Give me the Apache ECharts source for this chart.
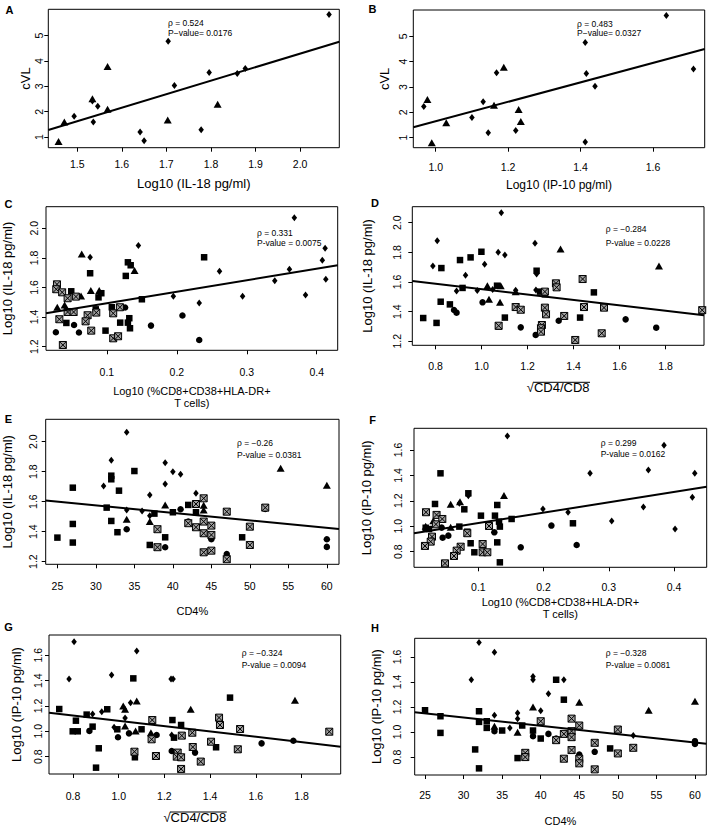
<!DOCTYPE html>
<html><head><meta charset="utf-8">
<script src="https://cdn.jsdelivr.net/npm/echarts@6/dist/echarts.min.js"></script>
<style>html,body{margin:0;padding:0;background:#fff}#c{width:708px;height:827px}</style>
</head><body><div id="c"></div>
<script>
// ---------- DATA ----------
// Panel A: x = Log10 IL-18, y = cVL
const A_diamond = [[2.065,5.83],[1.704,4.78],[1.796,3.55],[1.859,3.51],[1.877,3.70],[1.718,3.03],[1.534,2.42],[1.546,2.22],[1.493,1.82],[1.536,1.59],[1.641,1.20],[1.650,0.85],[1.778,1.29]];
const A_triangle = [[1.568,3.78],[1.534,2.51],[1.568,2.10],[1.471,1.59],[1.458,0.82],[1.703,1.67],[1.815,2.29]];
const A_fit = [[1.435,1.28],[2.088,4.76]];
const A_xticks = [1.5,1.6,1.7,1.8,1.9,2.0];
const A_yticks = [1,2,3,4,5];
const A_xrange = [1.435,2.088];
const A_yrange = [0.58,6.04];

// Panel B: x = Log10 IP-10, y = cVL
const B_diamond = [[1.637,5.82],[1.413,4.76],[1.416,3.53],[1.712,3.71],[1.440,3.03],[1.168,3.56],[1.131,2.42],[0.967,2.23],[1.100,1.80],[1.145,1.20],[1.221,1.28],[1.413,0.83]];
const B_triangle = [[1.188,3.78],[0.977,2.51],[1.161,2.28],[1.229,2.11],[1.235,1.64],[1.029,1.59],[0.989,0.80]];
const B_fit = [[0.938,1.41],[1.743,4.50]];
const B_xticks = [1.0,1.2,1.4,1.6];
const B_yticks = [1,2,3,4,5];
const B_xrange = [0.938,1.743];
const B_yrange = [0.605,6.04];

// Panel C: x = Log10 %CD8+CD38+HLA-DR+, y = Log10 IL-18
const C_diamond = [[0.368,2.072],[0.412,1.865],[0.408,1.784],[0.413,1.655],[0.361,1.723],[0.340,1.646],[0.384,1.549],[0.294,1.540],[0.261,1.709],[0.232,1.495],[0.195,1.540],[0.145,1.883],[0.076,1.804]];
const C_triangle = [[0.064,1.826],[0.1395,1.714],[0.029,1.466],[0.0395,1.482],[0.063,1.543],[0.077,1.579],[0.089,1.579]];
const C_square = [[0.076,1.696],[0.130,1.770],[0.134,1.750],[0.127,1.678],[0.049,1.574],[0.092,1.561],[0.088,1.533],[0.084,1.452],[0.107,1.466],[0.150,1.520],[0.042,1.360],[0.119,1.362],[0.132,1.392],[0.130,1.362],[0.133,1.324],[0.098,1.308],[0.239,1.804]];
const C_circle = [[0.126,1.464],[0.053,1.346],[0.163,1.342],[0.027,1.297],[0.060,1.295],[0.208,1.410],[0.232,1.245]];
const C_pattern = [[0.0286,1.621],[0.0276,1.588],[0.036,1.567],[0.0438,1.527],[0.0557,1.538],[0.0438,1.434],[0.0524,1.434],[0.0724,1.412],[0.0848,1.430],[0.1186,1.466],[0.109,1.425],[0.032,1.385],[0.0695,1.371],[0.0776,1.308],[0.109,1.256],[0.116,1.270],[0.037,1.211]];
const C_fit = [[0.0129,1.425],[0.430,1.750]];
const C_xticks = [0.1,0.2,0.3,0.4];
const C_yticks = [1.2,1.4,1.6,1.8,2.0];
const C_xrange = [0.0129,0.430];
const C_yrange = [1.175,2.146];

// Panel D: x = sqrt(CD4/CD8), y = Log10 IL-18
const D_diamond = [[1.0855,2.067],[0.807,1.879],[1.232,1.861],[1.072,1.80],[1.101,1.782],[0.788,1.708],[1.013,1.719],[0.930,1.645],[0.891,1.539],[0.981,1.542],[1.048,1.55],[1.236,1.546],[1.148,1.545],[1.239,1.654]];
const D_triangle = [[1.025,1.575],[1.083,1.575],[1.032,1.483],[1.080,1.463],[1.148,1.535],[1.343,1.822],[1.771,1.708]];
const D_square = [[0.746,1.357],[0.804,1.324],[0.825,1.694],[0.822,1.467],[0.862,1.449],[0.906,1.748],[0.952,1.766],[0.999,1.804],[0.917,1.560],[1.067,1.575],[1.101,1.360],[1.074,1.299],[1.239,1.676],[1.254,1.535],[1.275,1.517],[1.488,1.530],[1.428,1.360]];
const D_circle = [[1.004,1.463],[1.170,1.294],[1.235,1.243],[1.335,1.339],[0.880,1.411],[0.891,1.393],[1.626,1.348],[1.759,1.292]];
const D_pattern = [[1.148,1.431],[1.170,1.413],[1.275,1.535],[1.275,1.427],[1.280,1.382],[1.262,1.310],[1.258,1.288],[1.258,1.265],[1.359,1.371],[1.323,1.591],[1.326,1.564],[1.439,1.620],[1.445,1.431],[1.532,1.427],[1.407,1.209],[1.522,1.254],[1.959,1.41],[1.074,1.305]];
const D_fit = [[0.6986,1.607],[1.9667,1.375]];
const D_xticks = [0.8,1.0,1.2,1.4,1.6,1.8];
const D_yticks = [1.2,1.4,1.6,1.8,2.0];
const D_xrange = [0.6986,1.9667];
const D_yrange = [1.173,2.108];

// Panel E: x = CD4%, y = Log10 IL-18
const E_diamond = [[34,2.062],[32,1.876],[31,1.704],[39,1.86],[40,1.80],[41,1.782],[39,1.718],[37,1.644],[43,1.656],[36,1.538],[34,1.544],[37,1.505]];
const E_triangle = [[39,1.578],[44,1.575],[44,1.544],[37,1.467],[34,1.482],[54,1.822],[60,1.709]];
const E_square = [[35,1.804],[32,1.773],[32,1.749],[33,1.673],[27,1.693],[31.4,1.56],[32,1.471],[27,1.451],[27,1.327],[25,1.36],[32.8,1.396],[37,1.311],[37.6,1.52],[39,1.362],[40,1.529],[42,1.578],[43,1.529],[49,1.362]];
const E_circle = [[34,1.416],[39,1.296],[41,1.549],[42,1.467],[45,1.349],[47,1.251],[52,1.551],[60,1.349],[60,1.298]];
const E_pattern = [[44,1.622],[43,1.584],[47,1.533],[38,1.416],[42,1.456],[43,1.429],[44,1.467],[45,1.44],[44,1.389],[45,1.378],[38,1.296],[44,1.262],[45,1.273],[47,1.216],[50,1.433],[50,1.311],[52,1.56]];
const E_fit = [[23.48,1.607],[61.58,1.418]];
const E_xticks = [25,30,35,40,45,50,55,60];
const E_yticks = [1.2,1.4,1.6,1.8,2.0];
const E_xrange = [23.48,61.58];
const E_yrange = [1.182,2.149];

// Panel F: x = Log10 %CD8+CD38+HLA-DR+, y = Log10 IP-10
const F_diamond = [[0.1445,1.710],[0.3846,1.637],[0.4317,1.416],[0.3606,1.443],[0.2712,1.416],[0.428,1.228],[0.353,1.151],[0.199,1.136],[0.2375,1.110],[0.3044,1.041],[0.4015,0.978],[0.0709,1.180],[0.0847,1.24]];
const F_triangle = [[0.0576,1.172],[0.0719,1.193],[0.1393,1.241],[0.031,1.044],[0.0193,1.0],[0.0576,0.991]];
const F_square = [[0.042,1.416],[0.0336,1.175],[0.0847,1.259],[0.0785,1.133],[0.129,1.167],[0.104,1.083],[0.1255,1.083],[0.151,1.057],[0.0193,0.988],[0.0244,0.978],[0.0709,0.997],[0.1317,1.036],[0.133,0.997],[0.0831,0.957],[0.0882,0.866],[0.0939,0.795],[0.129,0.873],[0.133,0.716],[0.245,1.023]];
const F_circle = [[0.0438,0.989],[0.0453,0.910],[0.054,0.926],[0.1245,0.952],[0.165,0.834],[0.212,1.005],[0.2507,0.852]];
const F_pattern = [[0.0198,1.110],[0.036,1.089],[0.0448,1.057],[0.035,1.015],[0.1164,1.002],[0.029,0.918],[0.027,0.879],[0.0182,0.845],[0.0831,0.945],[0.0729,0.839],[0.0668,0.808],[0.0627,0.766],[0.1066,0.860],[0.1066,0.795],[0.1138,0.795],[0.0489,0.708]];
const F_fit = [[0.0014,0.944],[0.45,1.311]];
const F_xticks = [0.1,0.2,0.3,0.4];
const F_yticks = [0.8,1.0,1.2,1.4,1.6];
const F_xrange = [0.0014,0.45];
const F_yrange = [0.677,1.770];

// Panel G: x = sqrt(CD4/CD8), y = Log10 IP-10
const G_diamond = [[0.805,1.708],[1.079,1.634],[0.783,1.413],[0.969,1.445],[1.229,1.413],[1.238,1.413],[1.052,1.226],[1.028,1.105],[0.886,1.137],[0.926,1.155],[0.980,1.032],[1.232,0.971]];
const G_triangle = [[1.020,1.200],[1.028,1.174],[1.079,1.239],[1.028,1.042],[1.074,1.003],[1.141,0.989],[1.315,1.174],[1.771,1.245]];
const G_square = [[0.740,1.176],[0.813,1.084],[0.860,1.132],[0.950,1.174],[0.799,1.0],[0.821,1.0],[0.886,1.037],[0.994,1.016],[1.1,1.016],[0.913,0.866],[0.901,0.713],[1.064,1.418],[1.071,0.795],[1.235,1.089],[1.242,0.95],[1.273,1.05],[1.487,1.266],[1.426,0.874]];
const G_circle = [[0.872,1.003],[0.997,0.953],[1.045,0.984],[1.166,0.971],[1.232,0.845],[1.334,0.832],[1.625,0.905],[1.764,0.926]];
const G_pattern = [[1.147,1.089],[1.144,0.937],[1.163,0.805],[1.069,0.839],[1.258,0.832],[1.254,0.80],[1.273,0.795],[1.276,0.966],[1.273,0.703],[1.322,0.989],[1.324,0.876],[1.359,0.761],[1.404,0.918],[1.439,1.108],[1.443,1.05],[1.531,1.018],[1.521,0.858],[1.921,0.997]];
const G_fit = [[0.6953,1.147],[1.971,0.879]];
const G_xticks = [0.8,1.0,1.2,1.4,1.6,1.8];
const G_yticks = [0.8,1.0,1.2,1.4,1.6];
const G_xrange = [0.6953,1.971];
const G_yrange = [0.663,1.7605];

// Panel H: x = CD4%, y = Log10 IP-10
const H_diamond = [[32,1.714],[34,1.637],[31,1.417],[39,1.444],[39,1.417],[43,1.417],[41,1.306],[40,1.17],[37,1.152],[37,1.105],[34,1.134],[36,1.033],[34,1.028],[52,0.972]];
const H_triangle = [[39,1.2],[37,0.999],[45,1.237],[54,1.174],[60,1.245],[34,1.046]];
const H_square = [[25,1.174],[27,1.126],[27,0.993],[32,1.166],[32,1.081],[31.5,0.861],[32,0.71],[33,1.086],[33,1.033],[35,1.012],[37.6,1.052],[37,0.792],[39,1.012],[40,0.948],[42,1.417],[43,1.258],[49,0.869]];
const H_circle = [[34,1.007],[39,0.967],[41,0.985],[42,0.948],[45,0.821],[47,0.842],[60,0.927],[60,0.905]];
const H_pattern = [[40,1.086],[42,0.935],[43,0.985],[43,0.787],[44,1.107],[44,1.007],[44,0.959],[44,0.856],[45,1.052],[45,0.787],[45,0.75],[47,0.914],[47,0.702],[38,0.834],[38,0.8],[50,1.02],[50,0.829],[52,0.874]];
const H_fit = [[23.66,1.158],[61.47,0.906]];
const H_xticks = [25,30,35,40,45,50,55,60];
const H_yticks = [0.8,1.0,1.2,1.4,1.6];
const H_xrange = [23.66,61.47];
const H_yrange = [0.657,1.748];

const STATS = {
  A: ['ρ = 0.524', 'P−value= 0.0176'],
  B: ['ρ = 0.483', 'P−value= 0.0327'],
  C: ['ρ = 0.331', 'P-value = 0.0075'],
  D: ['ρ = −0.284', 'P-value = 0.0228'],
  E: ['ρ = −0.26', 'P-value = 0.0381'],
  F: ['ρ = 0.299', 'P-value = 0.0162'],
  G: ['ρ = −0.324', 'P-value = 0.0094'],
  H: ['ρ = −0.328', 'P-value = 0.0081']
};

// ---------- LAYOUT / STYLE ----------
const FONT = "'Liberation Sans', Arial, Helvetica, sans-serif";
const SQRT_NAME = '{r|√}{t|CD4/CD8}';
const panels = [
  {k:'A', g:{diamond:A_diamond, triangle:A_triangle}, fit:A_fit, xr:A_xrange, yr:A_yrange, xt:A_xticks, yt:A_yticks,
   box:[48.3,9.3,291,138.4], xd:1, yd:0, xname:'Log10 (IL-18 pg/ml)', yname:'cVL', xnf:13, ynf:13, xgap:29, ygap:13, xlm:11, ylm:4,
   stat:[168,23,33], lab:[9.5,10]},
  {k:'B', g:{diamond:B_diamond, triangle:B_triangle}, fit:B_fit, xr:B_xrange, yr:B_yrange, xt:B_xticks, yt:B_yticks,
   box:[413.3,10,291.4,137.7], xd:1, yd:0, xname:'Log10 (IP-10 pg/ml)', yname:'cVL', xnf:12, ynf:13, xgap:31, ygap:22, xlm:14, ylm:5,
   stat:[577,24,33], lab:[372.5,9]},
  {k:'C', g:{diamond:C_diamond, triangle:C_triangle, square:C_square, circle:C_circle, pattern:C_pattern}, fit:C_fit, xr:C_xrange, yr:C_yrange, xt:C_xticks, yt:C_yticks,
   box:[45.7,206.7,292,143.6], xd:1, yd:1, xname:'Log10 (%CD8+CD38+HLA-DR+\nT cells)', yname:'Log10 (IL-18 pg/ml)', xnf:11, xlh:12, ynf:13, xgap:35, ygap:32, xlm:16, ylm:7,
   stat:[257,233,243], lab:[8.5,204]},
  {k:'D', g:{diamond:D_diamond, triangle:D_triangle, square:D_square, circle:D_circle, pattern:D_pattern}, fit:D_fit, xr:D_xrange, yr:D_yrange, xt:D_xticks, yt:D_yticks,
   box:[412.3,206.7,291.7,138.6], xd:1, yd:1, xname:SQRT_NAME, sqrt:true, yname:'Log10 (IL-18 pg/ml)', xnf:13, ynf:13, xgap:36, ygap:38, xlm:15, ylm:9.5,
   stat:[605.7,229.3,243.3], lab:[375,203]},
  {k:'E', g:{diamond:E_diamond, triangle:E_triangle, square:E_square, circle:E_circle, pattern:E_pattern}, fit:E_fit, xr:E_xrange, yr:E_yrange, xt:E_xticks, yt:E_yticks,
   box:[45.7,419.3,293.3,145], xd:0, yd:1, xname:'CD4%', yname:'Log10 (IL-18 pg/ml)', xnf:11, ynf:13, xgap:41, ygap:31.5, xlm:16, ylm:7,
   stat:[237,443,455], lab:[8.5,418.5]},
  {k:'F', g:{diamond:F_diamond, triangle:F_triangle, square:F_square, circle:F_circle, pattern:F_pattern}, fit:F_fit, xr:F_xrange, yr:F_yrange, xt:F_xticks, yt:F_yticks,
   box:[414,428.3,292.7,139], xd:1, yd:1, xname:'Log10 (%CD8+CD38+HLA-DR+\nT cells)', yname:'Log10 (IP-10 pg/ml)', xnf:11, xlh:12, ynf:13, xgap:29, ygap:41.5, xlm:14, ylm:11,
   stat:[600.7,442.7,454], lab:[372.5,420]},
  {k:'G', g:{diamond:G_diamond, triangle:G_triangle, square:G_square, circle:G_circle, pattern:G_pattern}, fit:G_fit, xr:G_xrange, yr:G_yrange, xt:G_xticks, yt:G_yticks,
   box:[49,635,291.7,139], xd:1, yd:1, xname:SQRT_NAME, sqrt:true, yname:'Log10 (IP-10 pg/ml)', xnf:13, ynf:13, xgap:37, ygap:26, xlm:16, ylm:6,
   stat:[241.7,653.3,665], lab:[8.5,627]},
  {k:'H', g:{diamond:H_diamond, triangle:H_triangle, square:H_square, circle:H_circle, pattern:H_pattern}, fit:H_fit, xr:H_xrange, yr:H_yrange, xt:H_xticks, yt:H_yticks,
   box:[414.7,638.3,291.6,137.4], xd:0, yd:1, xname:'CD4%', yname:'Log10 (IP-10 pg/ml)', xnf:11, ynf:13, xgap:40, ygap:32, xlm:14.5, ylm:12.5,
   stat:[605.7,653.3,665], lab:[375,627.5]}
];

const SYM = {
  diamond: {symbol:'diamond', size:[5.5,7], style:{color:'#000'}},
  triangle:{symbol:'triangle', size:[8,7], style:{color:'#000'}},
  square:  {symbol:'rect', size:6.5, style:{color:'#000'}},
  circle:  {symbol:'circle', size:6.5, style:{color:'#000'}},
  pattern: {symbol:'path://M0,0H10V10H0ZM0,0L10,10M10,0L0,10', size:7, style:{color:'#a0a0a0', borderColor:'#000', borderWidth:1}}
};

const option = {animation:false, backgroundColor:'#fff', grid:[], xAxis:[], yAxis:[], series:[], graphic:[]};
const txtBase = {color:'#000', fontFamily:FONT};

const mctx = document.createElement('canvas').getContext('2d');

panels.forEach((p, i) => {
  option.grid.push({left:p.box[0], top:p.box[1], width:p.box[2], height:p.box[3], show:true,
    borderColor:'#000', borderWidth:1, backgroundColor:'rgba(0,0,0,0)'});
  const xNameStyle = Object.assign({fontSize:p.xnf}, txtBase);
  if (p.xlh) xNameStyle.lineHeight = p.xlh;
  if (p.sqrt) xNameStyle.rich = {r:{fontSize:p.xnf, fontFamily:FONT, color:'#000'}, t:{fontSize:p.xnf, fontFamily:FONT, color:'#000'}};
  option.xAxis.push({type:'value', gridIndex:i, min:p.xr[0], max:p.xr[1],
    axisLine:{show:false}, splitLine:{show:false},
    axisTick:{show:true, length:4, customValues:p.xt, lineStyle:{color:'#000', width:1}},
    axisLabel:Object.assign({customValues:p.xt, formatter:(v)=>Number(v).toFixed(p.xd), margin:p.xlm, fontSize:10.5}, txtBase),
    name:p.xname, nameLocation:'middle', nameGap:p.xgap, nameTextStyle:xNameStyle});
  option.yAxis.push({type:'value', gridIndex:i, min:p.yr[0], max:p.yr[1],
    axisLine:{show:false}, splitLine:{show:false},
    axisTick:{show:true, length:4, customValues:p.yt, lineStyle:{color:'#000', width:1}},
    axisLabel:Object.assign({customValues:p.yt, formatter:(v)=>Number(v).toFixed(p.yd), margin:p.ylm, fontSize:10.5, rotate:90}, txtBase),
    name:p.yname, nameLocation:'middle', nameGap:p.ygap, nameRotate:90, nameTextStyle:Object.assign({fontSize:p.ynf}, txtBase)});
  Object.keys(p.g).forEach(key => {
    const s = SYM[key];
    option.series.push({type:'scatter', xAxisIndex:i, yAxisIndex:i, data:p.g[key], symbol:s.symbol,
      symbolSize:s.size, itemStyle:Object.assign({opacity:1}, s.style), silent:true, z:3});
  });
  option.series.push({type:'line', xAxisIndex:i, yAxisIndex:i, data:p.fit, symbol:'none', silent:true,
    lineStyle:{color:'#000', width:2}, z:4});
  const st = STATS[p.k];
  option.graphic.push({type:'text', x:p.stat[0], y:p.stat[1], silent:true,
    style:{text:st[0], fill:'#000', font:'8.5px ' + FONT, textVerticalAlign:'middle'}});
  option.graphic.push({type:'text', x:p.stat[0], y:p.stat[2], silent:true,
    style:{text:st[1], fill:'#000', font:'8.5px ' + FONT, textVerticalAlign:'middle'}});
  option.graphic.push({type:'text', x:p.lab[0], y:p.lab[1], silent:true,
    style:{text:p.k, fill:'#000', font:'bold 11px ' + FONT, textAlign:'center', textVerticalAlign:'middle'}});
  if (p.sqrt) {
    mctx.font = p.xnf + 'px ' + "'Liberation Sans'";
    const wr = mctx.measureText('√').width, wt = mctx.measureText('CD4/CD8').width;
    const cx = p.box[0] + p.box[2] / 2;
    const x0 = cx - (wr + wt) / 2 + wr - 0.5;
    const yTop = p.box[1] + p.box[3] + p.xgap + 1;
    option.graphic.push({type:'line', silent:true, shape:{x1:x0, y1:yTop, x2:x0 + wt + 1, y2:yTop},
      style:{stroke:'#000', lineWidth:1}});
  }
});

const chart = echarts.init(document.getElementById('c'), null, {renderer:'svg', width:708, height:827});
chart.setOption(option);
</script>
</body></html>
